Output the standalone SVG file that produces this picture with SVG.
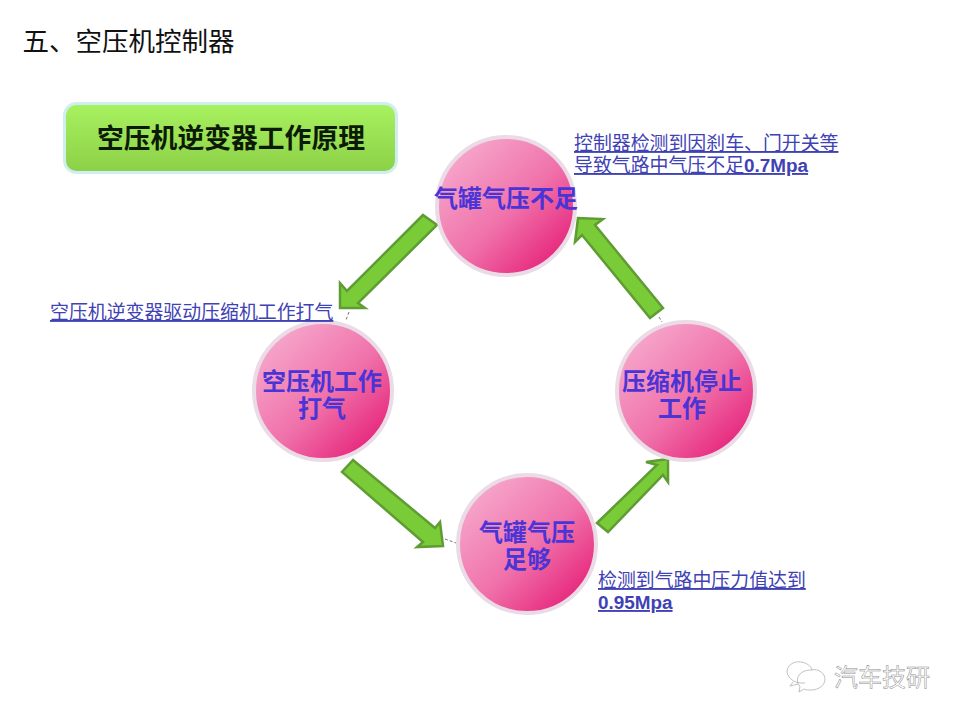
<svg xmlns="http://www.w3.org/2000/svg" width="960" height="720" viewBox="0 0 960 720">
<style>
text{font-family:"Noto Sans CJK SC","Liberation Sans",sans-serif}
.node{fill:url(#pink);stroke:#eadbe6;stroke-width:4}
.nt{font-size:24px;font-weight:700;fill:#4a34d6;text-anchor:middle}
.note{font-size:18.9px;fill:#3f42b4;text-decoration:underline}
.latin{font-family:"Liberation Sans",sans-serif;font-weight:700}
.arrow{fill:#7acb38;stroke:#5f9c33;stroke-width:2.5;stroke-linejoin:miter}
.lead{stroke:#555;stroke-width:.8;stroke-dasharray:3 2;fill:none}
.wm{fill:none;stroke:#999;stroke-width:.6}
</style>
<defs>
<linearGradient id="pink" x1="0.12" y1="0.1" x2="0.88" y2="0.9"><stop offset="0" stop-color="#f6a8cc"/><stop offset="0.55" stop-color="#f071aa"/><stop offset="1" stop-color="#e6237a"/></linearGradient>
<linearGradient id="green" x1="0" y1="0" x2="0" y2="1"><stop offset="0" stop-color="#a8f260"/><stop offset="1" stop-color="#8cd047"/></linearGradient>
</defs>
<rect width="960" height="720" fill="#fff"/>
<text x="22.500" y="51" font-size="26.500" fill="#111">五、空压机控制器</text>
<g id="title-box">
<rect x="64.500" y="103.500" width="332" height="69" rx="12" fill="url(#green)" stroke="#cfeef0" stroke-width="3"/>
<text x="231" y="148" font-size="26.800" font-weight="700" fill="#0c1a08" text-anchor="middle">空压机逆变器工作原理</text>
</g>
<g id="connectors">
<polygon class="arrow" points="423,215 437,225 358,303 365,308 340,308 340,283 347,291"/>
<polygon class="arrow" points="663,308 650,318 582,235 575,242 578,218 603,219 595,225"/>
<polygon class="arrow" points="353,460 342,472 423,542 417,547 443,546 440,522 435,528"/>
<polygon class="arrow" points="597,523 608,532 663,475 668,482 668,459 646,462 657,465"/>
<path class="lead" d="M349,312L346,320M659,317L662,322M445,539L456,543"/>
</g>
<g id="node-top">
<circle class="node" cx="506" cy="206" r="69"/>
<text class="nt" x="506" y="207">气罐气压不足</text>
</g>
<g id="node-left">
<circle class="node" cx="323" cy="391" r="69"/>
<text class="nt"><tspan x="322" y="390">空压机工作</tspan><tspan x="322" y="417">打气</tspan></text>
</g>
<g id="node-right">
<circle class="node" cx="686" cy="391" r="69"/>
<text class="nt"><tspan x="682" y="390">压缩机停止</tspan><tspan x="682" y="417">工作</tspan></text>
</g>
<g id="node-bottom">
<circle class="node" cx="527" cy="544" r="69"/>
<text class="nt"><tspan x="527" y="541">气罐气压</tspan><tspan x="527" y="568">足够</tspan></text>
</g>
<g id="notes">
<text class="note"><tspan x="574" y="150">控制器检测到因刹车、门开关等</tspan><tspan x="574" y="172">导致气路中气压不足</tspan><tspan class="latin">0.7Mpa</tspan></text>
<text class="note" x="50" y="319">空压机逆变器驱动压缩机工作打气</text>
<text class="note"><tspan x="598" y="587">检测到气路中压力值达到</tspan><tspan class="latin" x="598" y="609">0.95Mpa</tspan></text>
</g>
<g id="watermark">
<path class="wm" d="M805,683C792,684 787,676 787,671C788,664 795,661 801,662C807,663 811,666 812,670M793,682L790,686L798,684"/>
<path class="wm" d="M811,670C819,668 825,674 825,679C825,685 819,690 811,690C808,690 806,690 804,689L799,692L800,686C797,684 797,680 798,677C800,672 806,670 811,670Z"/>
<text x="834" y="686" font-size="24" fill="#fff" stroke="#8c8c8c" stroke-width=".5">汽车技研</text>
</g>
</svg>
